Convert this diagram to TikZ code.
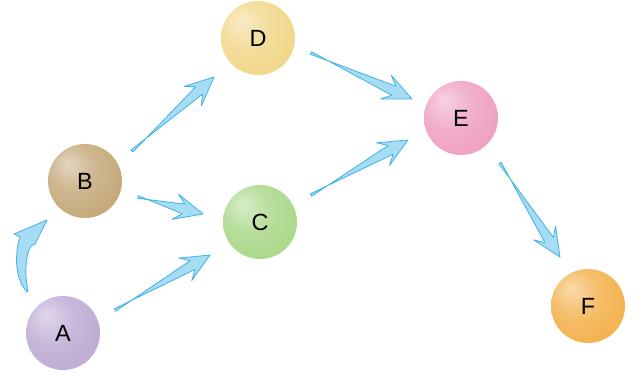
\documentclass[tikz,border=0pt]{standalone}
\usepackage{fontspec}
\setsansfont{Liberation Sans}
\usepackage{xcolor}
\usepackage{tikz}
\usetikzlibrary{calc}
\definecolor{ballA}{HTML}{BBA7D2}
\definecolor{ballB}{HTML}{C2A473}
\definecolor{ballC}{HTML}{A6D684}
\definecolor{ballD}{HTML}{F1D584}
\definecolor{ballE}{HTML}{EE9CBE}
\definecolor{ballF}{HTML}{F2AE45}
\definecolor{flowfill}{HTML}{A6DCF4}
\definecolor{flowline}{HTML}{40B4E6}
\colorlet{spherecol}{white}
\pgfdeclareradialshading[spherecol]{softball}{\pgfpoint{-12bp}{12bp}}{%
  color(0bp)=(spherecol!45!white); color(16bp)=(spherecol!80!white);
  color(38bp)=(spherecol); color(62bp)=(spherecol!93!black)}
\tikzset{
  sphere/.style={circle,minimum size=2.22cm,inner sep=0pt,shading=softball,
    font=\sffamily\fontsize{20}{24}\selectfont},
  sphere color/.code={\colorlet{spherecol}{#1}},
  flow/.style={fill=flowfill,draw=flowline,line width=0.7pt,line join=round}
}
% tapered arrow from tail #1 to tip #2
\newcommand{\flowarrow}[2]{%
  \filldraw[flow] ($(#1)!0.04cm!90:(#2)$)
    -- ($(#2)!0.6cm!(#1)!0.15cm!90:(#1)$)
    -- ($(#2)!0.86cm!(#1)!0.39cm!90:(#1)$)
    -- (#2)
    -- ($(#2)!0.86cm!(#1)!0.39cm!-90:(#1)$)
    -- ($(#2)!0.6cm!(#1)!0.15cm!-90:(#1)$)
    -- ($(#1)!0.04cm!-90:(#2)$) -- cycle;}

\begin{document}
\begin{tikzpicture}[x=0.03cm,y=-0.03cm]
\useasboundingbox (0,0) rectangle (643,377);
\foreach \n/\x/\y in {A/63/333,B/85/181,C/260/222,D/258/38,E/461/118,F/588/306}
  \node[sphere,sphere color=ball\n] (\n) at (\x,\y) {\n};
% straight arrows: tail and tip placed against the spheres
\foreach \s/\t/\ds/\dt in {A/C/{52,-23}/{-50,33}, B/C/{53,16}/{-57,-8},
  B/D/{47,-30}/{-44,39}, D/E/{53,15}/{-49,-19},
  C/E/{51,-27}/{-53,22}, E/F/{39,45}/{-28,-49}} {
  \coordinate (\s\t0) at ($(\s)+(\ds)$);
  \coordinate (\s\t1) at ($(\t)+(\dt)$);
  \flowarrow{\s\t0}{\s\t1}
}
% curved arrow A to B
\coordinate (AB0) at ($(A)+(-36,-41)$);
\coordinate (AB1) at ($(B)+(-38,39)$);
\filldraw[flow] (AB0)
  .. controls ($(AB0)+(-13,-14)$) and ($(AB0)+(-12,-40)$) .. ($(AB0)+(-7,-55)$)
  -- ($(AB0)+(-13,-58)$) -- (AB1) -- ($(AB0)+(8,-48)$) -- ($(AB0)+(4,-46)$)
  .. controls ($(AB0)+(-1,-38)$) and ($(AB0)+(-3,-20)$) .. ($(AB0)+(1,-1)$)
  -- cycle;
\end{tikzpicture}
\end{document}
